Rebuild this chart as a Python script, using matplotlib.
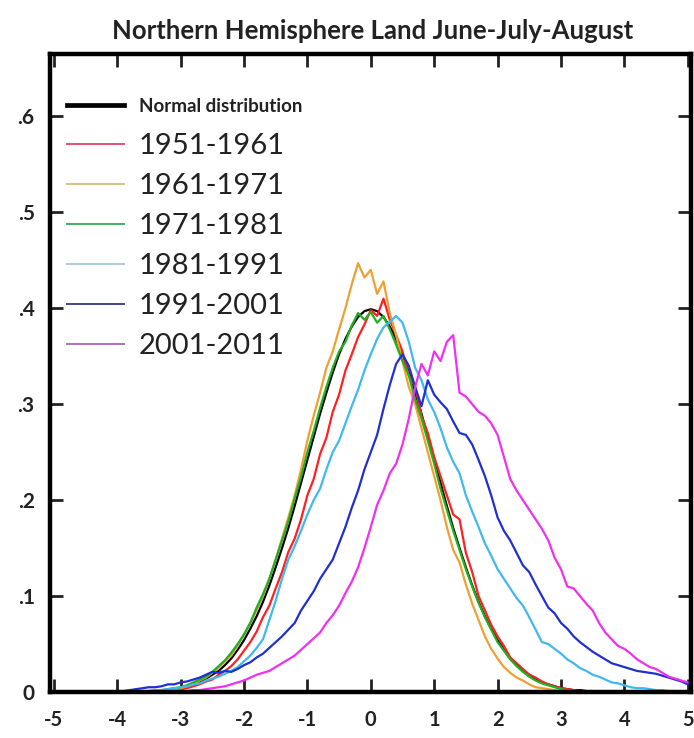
import matplotlib
matplotlib.use("Agg")
import matplotlib.pyplot as plt
import numpy as np
from matplotlib.lines import Line2D

# bin centres, -4.5 .. 5.0 in steps of 0.1
x = np.round(np.arange(-45, 51) / 10.0, 1)

normal = [0, 0, 0, 0, 0,
          0, 0, 0, 0, 0, .001, .001, .002, .002, .003,
          .004, .006, .008, .010, .014, .018, .022, .028, .035, .044,
          .054, .066, .079, .094, .111, .130, .150, .171, .194, .218,
          .242, .266, .290, .312, .333, .352, .368, .381, .391, .397,
          .399, .397, .391, .381, .368, .352, .333, .312, .290, .266,
          .242, .218, .194, .171, .150, .130, .111, .094, .079, .066,
          .054, .044, .035, .028, .022, .018, .014, .010, .008, .006,
          .004, .003, .002, .002, .001, .001, 0, 0, 0, 0,
          0, 0, 0, 0, 0, 0, 0, 0, 0, 0,
          0]

p1951 = [0, 0, 0, 0, 0,
         0, 0, 0, 0, 0, 0, 0, .001, .001, .002,
         .003, .004, .006, .008, .011, .013, .018, .022, .027, .034,
         .043, .052, .063, .078, .090, .108, .125, .146, .160, .180,
         .205, .222, .248, .265, .292, .310, .335, .352, .370, .383,
         .398, .392, .410, .388, .372, .355, .330, .318, .288, .270,
         .245, .225, .205, .185, .180, .145, .125, .100, .085, .070,
         .058, .048, .036, .030, .024, .018, .015, .011, .008, .006,
         .004, .003, .002, .001, .001, 0, 0, 0, 0, 0,
         0, 0, 0, 0, 0, 0, 0, 0, 0, 0,
         0]

p1961 = [0, 0, 0, 0, 0,
         0, 0, 0, 0, 0, 0, .001, .001, .002, .003,
         .004, .006, .008, .012, .015, .020, .025, .032, .038, .048,
         .060, .072, .085, .100, .118, .138, .160, .182, .205, .232,
         .262, .288, .312, .338, .355, .378, .400, .425, .447, .432,
         .440, .415, .428, .395, .372, .345, .318, .300, .275, .250,
         .225, .200, .172, .148, .135, .112, .092, .075, .058, .045,
         .035, .026, .020, .015, .012, .008, .005, .004, .003, .002,
         .001, .001, 0, 0, 0, 0, 0, 0, 0, 0,
         0, 0, 0, 0, 0, 0, 0, 0, 0, 0,
         0]

p1971 = [0, 0, 0, 0, 0,
         0, 0, 0, 0, 0, .001, .001, .002, .003, .004,
         .005, .007, .010, .013, .016, .021, .027, .033, .041, .050,
         .060, .072, .088, .102, .118, .138, .158, .178, .202, .224,
         .250, .272, .296, .318, .338, .355, .365, .382, .395, .388,
         .396, .385, .392, .378, .362, .345, .330, .305, .285, .262,
         .238, .212, .190, .168, .148, .128, .110, .093, .078, .065,
         .052, .043, .034, .027, .021, .016, .012, .009, .007, .005,
         .003, .002, .001, .001, 0, 0, 0, 0, 0, 0,
         0, 0, 0, 0, 0, 0, 0, 0, 0, 0,
         0]

p1981 = [0, 0, 0, 0, 0,
         0, 0, 0, 0, .001, .001, .002, .002, .003, .004,
         .005, .006, .008, .009, .012, .014, .016, .019, .022, .026,
         .032, .038, .046, .055, .075, .095, .118, .138, .152, .168,
         .185, .200, .212, .232, .250, .262, .280, .298, .315, .335,
         .352, .368, .380, .386, .392, .385, .365, .338, .325, .305,
         .292, .275, .255, .240, .228, .205, .188, .172, .155, .142,
         .128, .118, .108, .098, .090, .078, .065, .052, .050, .045,
         .040, .034, .030, .025, .022, .018, .016, .013, .010, .009,
         .007, .005, .004, .004, .003, .002, .002, .001, .001, 0,
         0]

p1991 = [0, 0, 0, 0, 0,
         .001, .001, .002, .003, .004, .005, .005, .006, .008, .008,
         .010, .011, .013, .015, .018, .021, .020, .022, .021, .024,
         .028, .031, .036, .040, .046, .052, .058, .065, .072, .085,
         .095, .105, .118, .128, .138, .155, .172, .192, .210, .232,
         .250, .268, .295, .320, .342, .352, .340, .318, .298, .325,
         .310, .302, .295, .282, .270, .268, .258, .242, .225, .205,
         .182, .168, .158, .145, .132, .125, .112, .100, .088, .082,
         .072, .066, .058, .052, .047, .042, .038, .034, .030, .028,
         .026, .024, .022, .021, .020, .019, .017, .015, .013, .011,
         .008]

p2001 = [0, 0, 0, 0, 0,
         0, 0, 0, 0, 0, 0, 0, 0, 0, 0,
         .001, .001, .002, .002, .003, .004, .005, .006, .008, .010,
         .012, .015, .018, .020, .022, .026, .030, .034, .038, .044,
         .050, .056, .062, .072, .080, .090, .103, .115, .130, .150,
         .172, .195, .210, .228, .238, .258, .285, .318, .342, .330,
         .355, .345, .365, .372, .312, .308, .300, .292, .288, .280,
         .268, .245, .222, .210, .200, .190, .180, .170, .158, .140,
         .128, .110, .108, .100, .092, .085, .072, .062, .055, .048,
         .045, .040, .034, .030, .026, .024, .020, .016, .014, .012,
         .010]

series = [
    ("1951-1961", p1951, "#ff2020", "#e85070"),
    ("1961-1971", p1961, "#f0a030", "#d8c080"),
    ("1971-1981", p1971, "#20b020", "#40b060"),
    ("1981-1991", p1981, "#40b8f0", "#a8cce0"),
    ("1991-2001", p1991, "#2030d0", "#404888"),
    ("2001-2011", p2001, "#f030f0", "#b070b8"),
]

plt.rcParams["font.family"] = ["Lato", "DejaVu Sans"]

fig = plt.figure(figsize=(6.94, 7.38), dpi=100)
ax = fig.add_axes([0.072, 0.0623, 0.9236, 0.8645])

for label, vals, col, _ in series:
    ax.plot(x, vals, color=col, lw=1.6)
ax.plot(x, normal, color="black", lw=1.6, zorder=1)

ax.set_xlim(-5.06, 5.05)
ax.set_ylim(0, 0.665)
ax.set_xticks(range(-5, 6))
ax.set_xticklabels([str(v) for v in range(-5, 6)])
ax.set_yticks([0, .1, .2, .3, .4, .5, .6])
ax.set_yticklabels(["0", ".1", ".2", ".3", ".4", ".5", ".6"])

for s in ax.spines.values():
    s.set_linewidth(3.2)
ax.tick_params(direction="in", length=9.5, width=2, top=True, right=True,
               labelsize=15, colors="#222222")
ax.tick_params(axis="x", pad=13, labelsize=14.5)
ax.tick_params(axis="y", pad=11)
for t in ax.get_xticklabels() + ax.get_yticklabels():
    t.set_fontweight("bold")

fig.text(0.537, 0.958, "Northern Hemisphere Land June-July-August",
         ha="center", va="center", fontsize=18.5, fontweight="bold", color="#222222")

# normal distribution entry on its own (smaller bold text)
leg0 = ax.legend([Line2D([], [], color="black", lw=3.4)], ["Normal distribution"],
                 loc="upper left", bbox_to_anchor=(0.027, 0.931), frameon=False,
                 prop={"size": 13.5, "weight": "bold"}, handlelength=3.05,
                 handletextpad=0.8, borderaxespad=0, borderpad=0)
for t in leg0.get_texts():
    t.set_color("#222222")
ax.add_artist(leg0)

handles = [Line2D([], [], color=lcol, lw=1.4) for _, _, _, lcol in series]
labels = [s[0] for s in series]
leg = ax.legend(handles, labels, loc="upper left", bbox_to_anchor=(0.027, 0.876),
                frameon=False, fontsize=21, handlelength=1.95, handletextpad=0.5,
                labelspacing=0.48, borderaxespad=0, borderpad=0)
for t in leg.get_texts():
    t.set_color("#222222")

fig.savefig("out.png", dpi=100)
